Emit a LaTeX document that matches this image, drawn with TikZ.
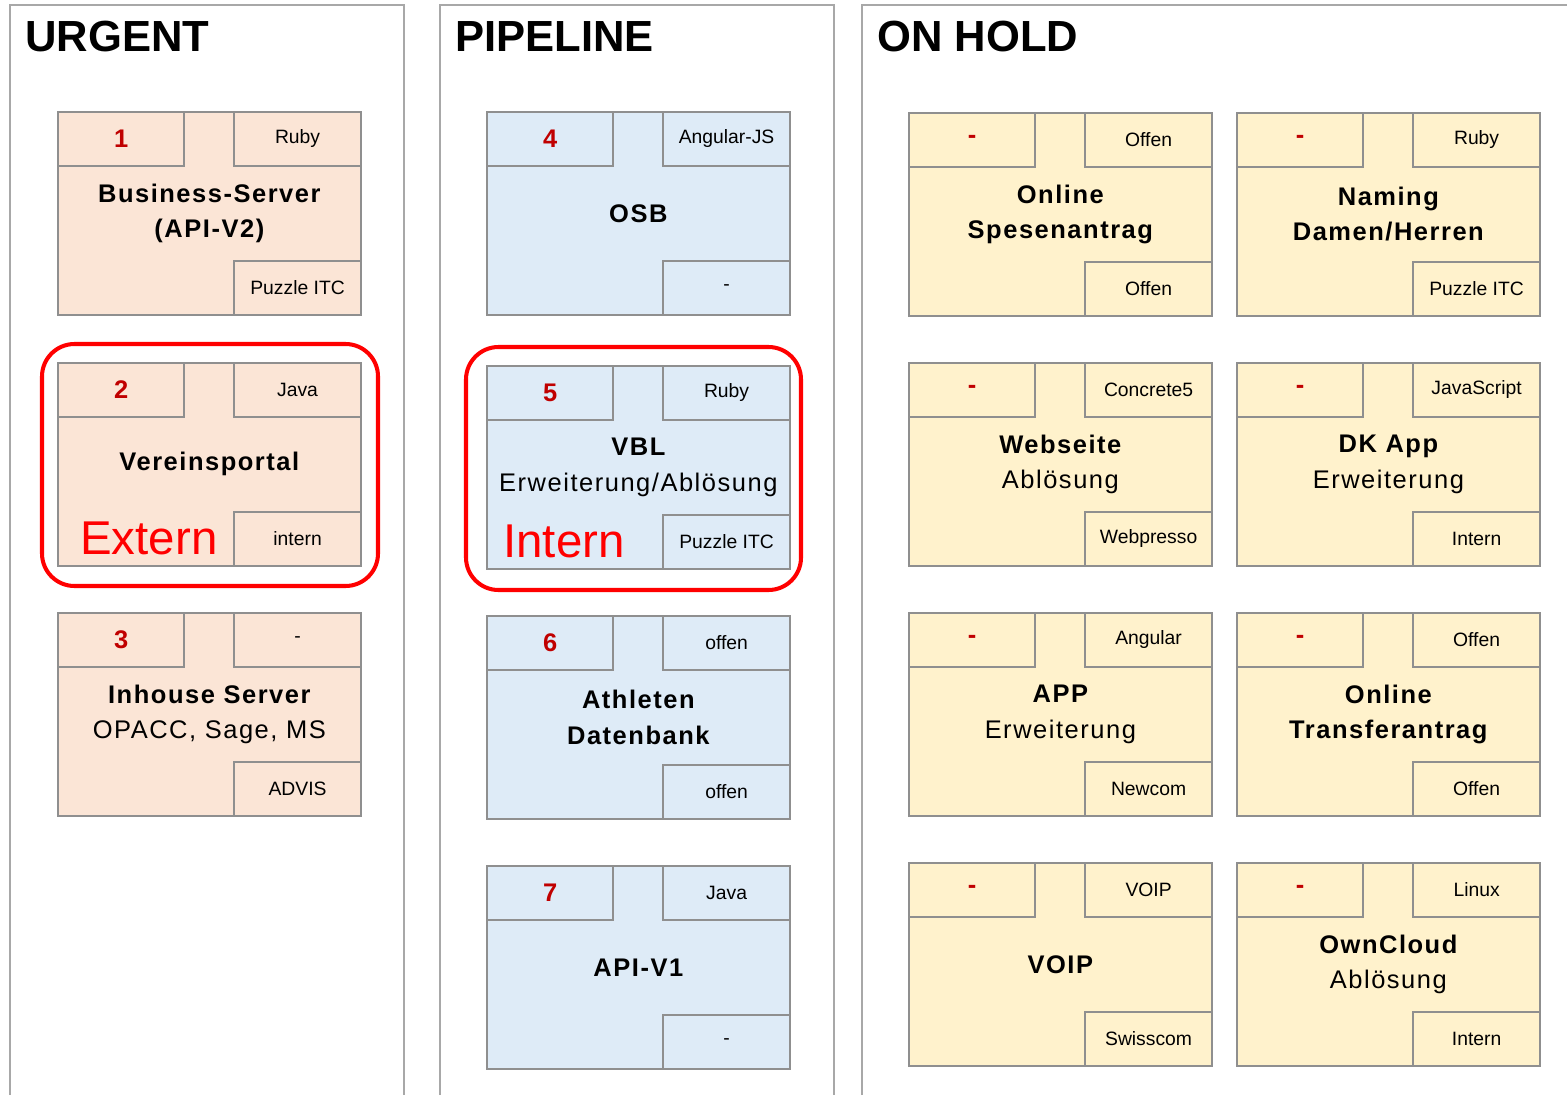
\documentclass[tikz,border=0pt]{standalone}
\usepackage{fontspec}
\setmainfont{Liberation Sans}
\newfontfamily\titlefont[LetterSpace=6]{Liberation Sans}
\definecolor{urgfill}{HTML}{FBE5D6}
\definecolor{pipefill}{HTML}{DEEBF7}
\definecolor{holdfill}{HTML}{FFF2CC}
\definecolor{numred}{HTML}{C00000}
\definecolor{cardline}{HTML}{8F8F8F}
\definecolor{panelline}{HTML}{A8A8A8}

% card: name, x, y, fill, number, tech, company, title
\newcommand{\card}[8]{%
  \node (#1) at (#2,#3) [card, fill=#4] {};
  \node (#1n) at (#1.north west) [cell, anchor=north west, fill=#4, numtext] {#5};
  \node (#1t) at (#1.north east) [cell, anchor=north east, fill=#4] {#6};
  \node (#1c) at (#1.south east) [cell, anchor=south east, fill=#4] {#7};
  \node (#1l) at (#1.center) [title] {#8};
}

\begin{document}
\begin{tikzpicture}[x=0.02cm, y=-0.02cm,
    panel/.style={draw=panelline, line width=1.1pt},
    head/.style={anchor=base west, inner sep=0, font=\bfseries\fontsize{24.8}{28}\selectfont},
    card/.style={draw=cardline, line width=1pt, anchor=north west, inner sep=0,
                 minimum width=6.06cm, minimum height=4.06cm},
    cell/.style={draw=cardline, line width=1pt, inner sep=0,
                 minimum width=2.53cm, minimum height=1.08cm,
                 font=\fontsize{11}{13}\selectfont},
    numtext/.style={text=numred, font=\bfseries\fontsize{14.5}{17}\selectfont},
    title/.style={align=center, inner sep=0, font=\titlefont\fontsize{14.5}{20}\selectfont},
    hilite/.style={draw=red, line width=2.3pt, rounded corners=0.65cm},
    tag/.style={anchor=base west, inner sep=0, text=red, font=\fontsize{27}{30}\selectfont}]

      \useasboundingbox (0,0) rectangle (1567,1095);

          %%  columns  %%
      \draw[panel] (10,1095) |- (404,5) -- (404,1095);
      \draw[panel] (440,1095) |- (834,5) -- (834,1095);
      \draw[panel] (862,1095) |- (1567,5);
      \node (urg) at (25,52) [head] {URGENT};
      \node (pipe) at (455,52) [head] {PIPELINE};
      \node (hold) at (877,52) [head] {ON HOLD};

          %%  urgent  %%
      \card{c1}{57}{111}{urgfill}{1}{Ruby}{Puzzle ITC}{\bfseries Business-Server\\\bfseries(API-V2)}
      \card{c2}{57}{362}{urgfill}{2}{Java}{intern}{\bfseries Vereinsportal}
      \card{c3}{57}{612}{urgfill}{3}{-}{ADVIS}{\bfseries Inhouse Server\\OPACC, Sage, MS}

          %%  pipeline  %%
      \card{c4}{486}{111}{pipefill}{4}{Angular-JS}{-}{\bfseries OSB}
      \card{c5}{486}{365}{pipefill}{5}{Ruby}{Puzzle ITC}{\bfseries VBL\\Erweiterung/Ablösung}
      \card{c6}{486}{615}{pipefill}{6}{offen}{offen}{\bfseries Athleten\\\bfseries Datenbank}
      \card{c7}{486}{865}{pipefill}{7}{Java}{-}{\bfseries API-V1}

          %%  on hold  %%
      \card{h1}{908}{112}{holdfill}{-}{Offen}{Offen}{\bfseries Online\\\bfseries Spesenantrag}
      \card{h2}{1236}{112}{holdfill}{-}{Ruby}{Puzzle ITC}{\bfseries Naming\\\bfseries Damen/Herren}
      \card{h3}{908}{362}{holdfill}{-}{Concrete5}{Webpresso}{\bfseries Webseite\\Ablösung}
      \card{h4}{1236}{362}{holdfill}{-}{JavaScript}{Intern}{\bfseries DK App\\Erweiterung}
      \card{h5}{908}{612}{holdfill}{-}{Angular}{Newcom}{\bfseries APP\\Erweiterung}
      \card{h6}{1236}{612}{holdfill}{-}{Offen}{Offen}{\bfseries Online\\\bfseries Transferantrag}
      \card{h7}{908}{862}{holdfill}{-}{VOIP}{Swisscom}{\bfseries VOIP}
      \card{h8}{1236}{862}{holdfill}{-}{Linux}{Intern}{\bfseries OwnCloud\\Ablösung}

          %%  marked  %%
      \draw[hilite] (42,344) rectangle (378,586);
      \draw[hilite] (466,347) rectangle (801,590);
      \node (ext) at (80,554) [tag] {Extern};
      \node (int) at (503,557) [tag] {Intern};

\end{tikzpicture}
\end{document}
